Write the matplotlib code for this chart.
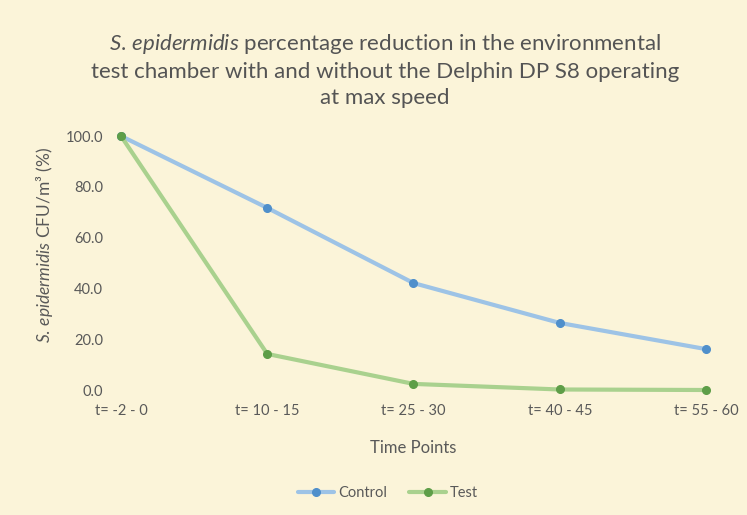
import matplotlib
matplotlib.use("Agg")
import matplotlib.pyplot as plt

categories = ["t= -2 - 0", "t= 10 - 15", "t= 25 - 30", "t= 40 - 45", "t= 55 - 60"]
control = [100.0, 71.7, 42.1, 26.4, 16.1]
test = [100.0, 14.2, 2.4, 0.2, 0.0]
yticks = [0, 20, 40, 60, 80, 100]

FONT = "Lato"
plt.rcParams['font.family'] = [FONT, 'DejaVu Sans']
plt.rcParams['mathtext.fontset'] = 'custom'
plt.rcParams['mathtext.rm'] = FONT
plt.rcParams['mathtext.it'] = FONT + ':italic'
plt.rcParams['mathtext.bf'] = FONT + ':bold'

W, H = 747, 515
bg = "#FBF4D9"
txt = "#595959"
fig = plt.figure(figsize=(W/100, H/100), dpi=100, facecolor=bg)

left, right = 110, 717
top, bottom = 136, 390
ax = fig.add_axes([left/W, 1-bottom/H, (right-left)/W, (bottom-top)/H])
ax.set_facecolor("none")
x = list(range(len(categories)))
ax.plot(x, control, color="#9DC3E6", lw=3, marker="o", ms=5.5,
        mfc="#4F8FCB", mec="#4F8FCB", solid_capstyle="round", clip_on=False, label="Control", zorder=3)
ax.plot(x, test, color="#A9D18E", lw=3, marker="o", ms=5.5,
        mfc="#5E9E48", mec="#5E9E48", solid_capstyle="round", clip_on=False, label="Test", zorder=3)
ax.set_xlim(-0.075, 4.075)
ax.set_ylim(0, 100)
ax.set_yticks(yticks)
ax.set_yticklabels([f"{v:.1f}" for v in yticks], color=txt, fontsize=10.5)
ax.set_xticks(x)
ax.set_xticklabels(categories, color=txt, fontsize=10.5)
ax.tick_params(length=0, pad=10)
ax.tick_params(axis='y', pad=5)
for s in ax.spines.values():
    s.set_visible(False)

ax.set_xlabel("Time Points", color=txt, fontsize=12, labelpad=16)
fig.text(45/W, 1-245/H, r"$\it{S.\,epidermidis}$ CFU/m³ (%)", rotation=90,
         ha="center", va="center", color=txt, fontsize=12.5)

fig.text(385/W, 1-70/H,
         "$\\it{S.\\,epidermidis}$ percentage reduction in the environmental\n"
         "test chamber with and without the Delphin DP S8 operating\n"
         "at max speed",
         ha="center", va="center", color="#545454", fontsize=16,
         linespacing=1.36)

leg = fig.legend(loc="center", bbox_to_anchor=(388/W, 1-493/H), ncol=2, frameon=False,
                 fontsize=10.5, handlelength=2.5, columnspacing=1.5, handletextpad=0.3)
for t in leg.get_texts():
    t.set_color(txt)

fig.savefig("out.png", dpi=100, facecolor=bg)
